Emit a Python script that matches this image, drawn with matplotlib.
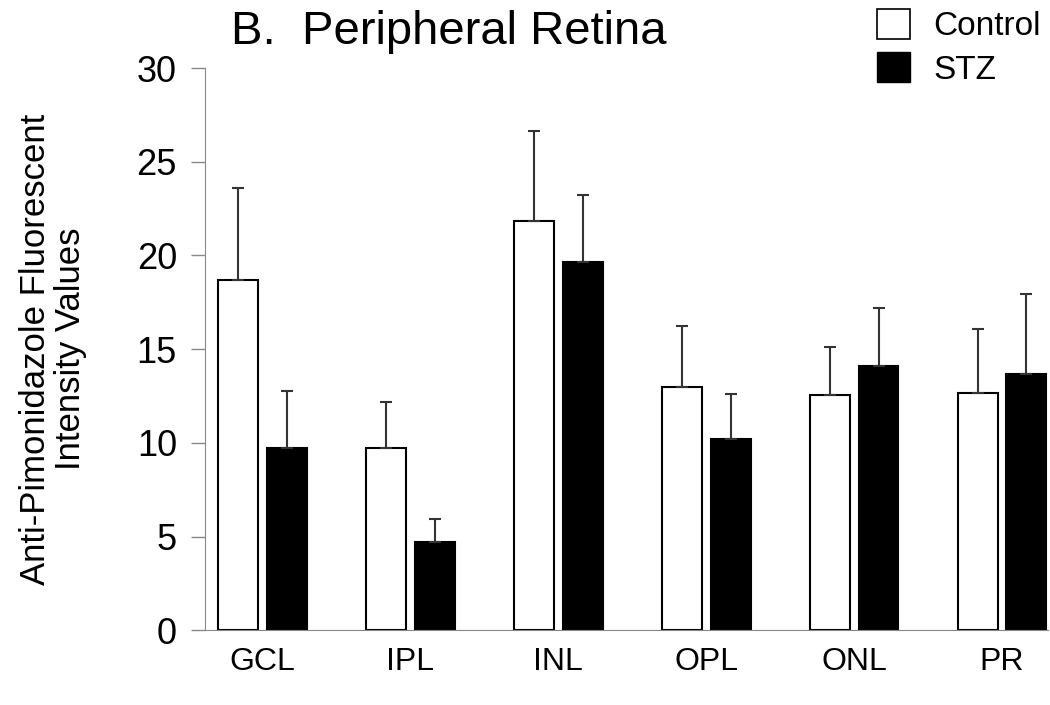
import numpy as np
import matplotlib
matplotlib.use('Agg')
import matplotlib.pyplot as plt
from matplotlib.patches import Patch

plt.rcParams['font.family'] = ['Liberation Sans', 'DejaVu Sans']

layers = ['GCL', 'IPL', 'INL', 'OPL', 'ONL', 'PR']
control_mean = [18.7, 9.7, 21.85, 13.0, 12.55, 12.65]
control_err = [4.9, 2.5, 4.8, 3.25, 2.55, 3.4]
stz_mean = [9.75, 4.7, 19.65, 10.2, 14.1, 13.65]
stz_err = [3.0, 1.25, 3.6, 2.4, 3.1, 4.3]

fig = plt.figure(figsize=(10.5, 7.05), dpi=100)
ax = fig.add_axes([0.195, 0.106, 0.803, 0.7975])

x = np.arange(len(layers))
w = 0.27
off = 0.165
err_kw = dict(ecolor='#333333', elinewidth=1.5, capsize=4, capthick=1.5)
ax.bar(x - off, control_mean, w, color='white', edgecolor='black', linewidth=1.5,
       yerr=[np.zeros(len(x)), control_err], error_kw=err_kw)
ax.bar(x + off, stz_mean, w, color='black', edgecolor='black', linewidth=1.5,
       yerr=[np.zeros(len(x)), stz_err], error_kw=err_kw)

ax.set_ylim(0, 30)
ax.set_xlim(-0.39, 5.31)
ax.set_yticks([0, 5, 10, 15, 20, 25, 30])
ax.set_xticks(x)
ax.set_xticklabels(layers)
ax.spines['right'].set_visible(False)
ax.spines['top'].set_visible(False)
ax.spines['left'].set_color('#888888')
ax.spines['bottom'].set_color('#888888')
ax.tick_params('y', labelsize=26, color='#888888', length=10, width=1, pad=10)
ax.tick_params('x', labelsize=23, length=0, pad=12)
ax.set_ylabel('Anti-Pimonidazole Fluorescent\nIntensity Values', fontsize=25, labelpad=36,
              linespacing=1.05)

fig.text(0.22, 0.955, 'B.  Peripheral Retina', fontsize=34, va='center', ha='left')

handles = [Patch(facecolor='white', edgecolor='black', linewidth=1.2, label='Control'),
           Patch(facecolor='black', edgecolor='black', label='STZ')]
fig.legend(handles=handles, loc='upper right', bbox_to_anchor=(1.02, 1.03), frameon=False,
           fontsize=24, handlelength=1.0, handleheight=1.0, handletextpad=0.7,
           labelspacing=0.3)

plt.savefig('out.png', dpi=100)
